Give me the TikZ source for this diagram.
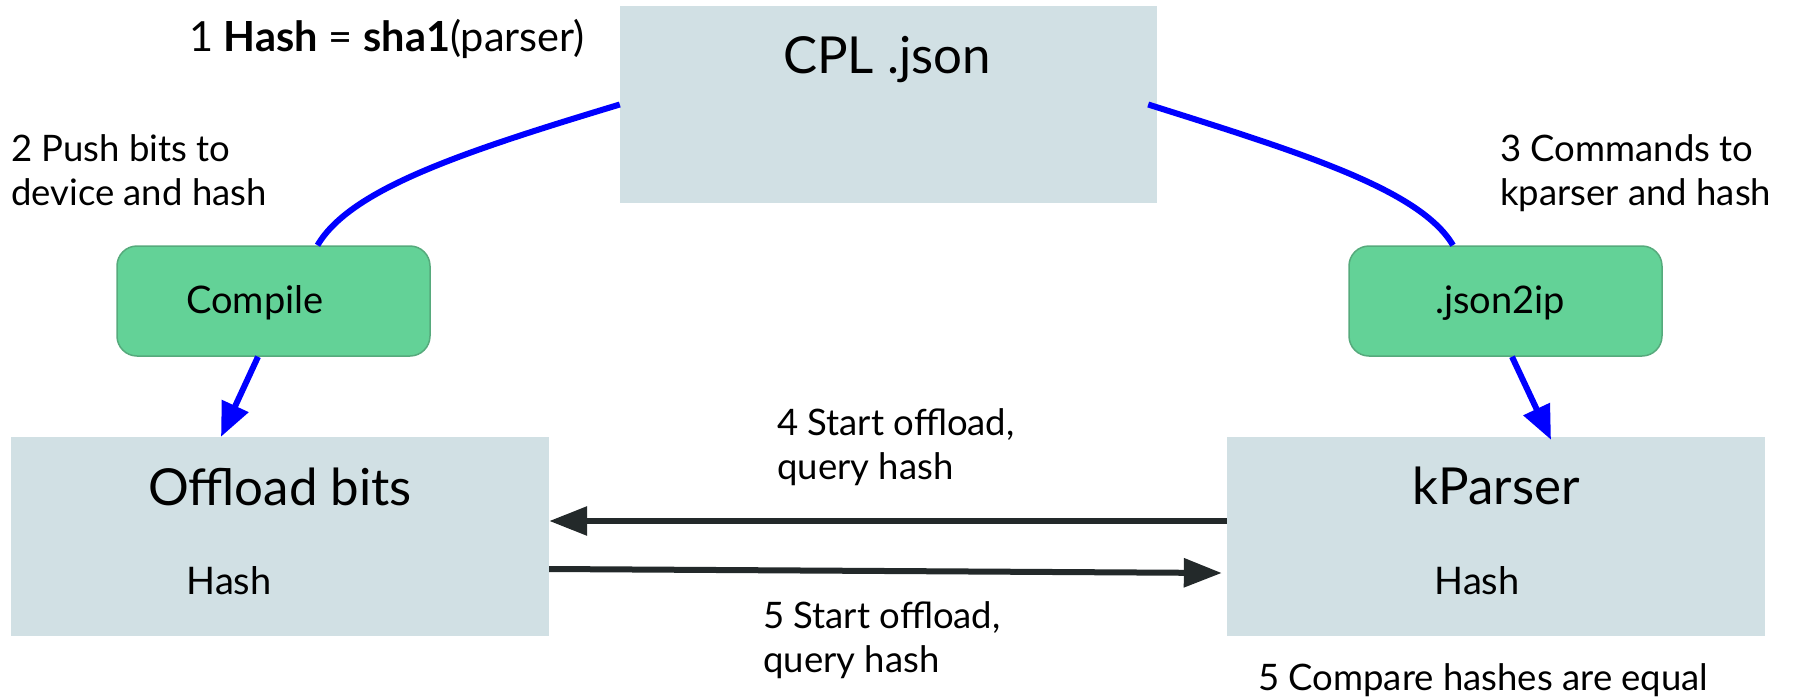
\documentclass[tikz,border=0pt]{standalone}
\usepackage{fontspec}
\setmainfont{Lato}
\usetikzlibrary{arrows.meta}

\definecolor{boxgray}{HTML}{D1E0E4}
\definecolor{stepgreen}{HTML}{63D297}
\definecolor{stepedge}{HTML}{56AA7C}
\definecolor{flowblue}{HTML}{0000FF}
\definecolor{msgdark}{HTML}{23292A}

\tikzset{
  x=1pt, y=-1pt,
  block/.style={fill=boxgray, draw=none, inner sep=0pt},
  stepbox/.style={fill=stepgreen, draw=stepedge, line width=1.5pt,
    rounded corners=20pt, inner sep=0pt, minimum width=313pt, minimum height=110pt},
  title/.style={font=\fontsize{51}{60}\selectfont, inner sep=0pt, anchor=base},
  inner/.style={font=\fontsize{38}{45}\selectfont, inner sep=0pt, anchor=base},
  note/.style={font=\fontsize{36.5}{43.5}\selectfont, inner sep=0pt, align=left, anchor=base west},
  flow/.style={draw=flowblue, line width=6pt},
  flowarrow/.style={flow, -{Triangle[length=34pt, width=28pt]}},
  msg/.style={draw=msgdark, line width=6pt, -{Triangle[length=38pt, width=28pt]}},
}

\begin{document}
\begin{tikzpicture}
\useasboundingbox (0,0) rectangle (1800,699);

% main boxes
\node[block, minimum width=537pt, minimum height=197pt] (cpl) at (888.5,104.5) {};
\node[block, minimum width=538pt, minimum height=199pt] (offload) at (280,536.5) {};
\node[block, minimum width=538pt, minimum height=199pt] (kparser) at (1496,536.5) {};

\node[title] (cpltext) at (887,73) {CPL .json};
\node[title] (offloadtext) at (280,505) {Offload bits};
\node[inner] (offloadhash) at (229,594) {Hash};
\node[title] (kparsertext) at (1496,504) {kParser};
\node[inner] (kparserhash) at (1477,594) {Hash};

% processing steps
\node[stepbox] (compile) at (273.5,301) {};
\node[inner] (compiletext) at (255,313) {Compile};
\node[stepbox] (json2ip) at (1505.5,301) {};
\node[inner] (json2iptext) at (1500,313) {.json2ip};

% numbered notes (multi-line ones are placed by their last baseline)
\node[note, font=\fontsize{41.5}{43}\selectfont] (n1) at (189,51)
  {1 \textbf{Hash} = \textbf{sha1}(parser)};
\node[note] (n2) at (11,205) {2 Push bits to\\device and hash};
\node[note] (n3) at (1500,205) {3 Commands to\\kparser and hash};
\node[note] (n4) at (777,479) {4 Start offload,\\query hash};
\node[note] (n5) at (763,672) {5 Start offload,\\query hash};
\node[note] (n6) at (1258,690) {5 Compare hashes are equal};

% blue flow from the CPL file through the tools
\draw[flow] (cpl.west) .. controls +(-159,48) and +(33,-56) .. ([xshift=44pt]compile.north);
\draw[flow] ([xshift=-9pt]cpl.east) .. controls +(152,48) and +(-33,-56) .. ([xshift=-52.5pt]json2ip.north);
\draw[flowarrow] ([xshift=-15.5pt]compile.south) -- ([xshift=-59pt]offload.north);
\draw[flowarrow] ([xshift=6.5pt]json2ip.south) -- ([xshift=55pt,yshift=-3pt]kparser.north);

% messages between the two sides
\draw[msg] ([yshift=15.5pt]kparser.west) -- ([yshift=15.5pt]offload.east);
\draw[msg] ([yshift=-32.5pt]offload.east) -- ([xshift=-5pt,yshift=-36.5pt]kparser.west);
\end{tikzpicture}
\end{document}
